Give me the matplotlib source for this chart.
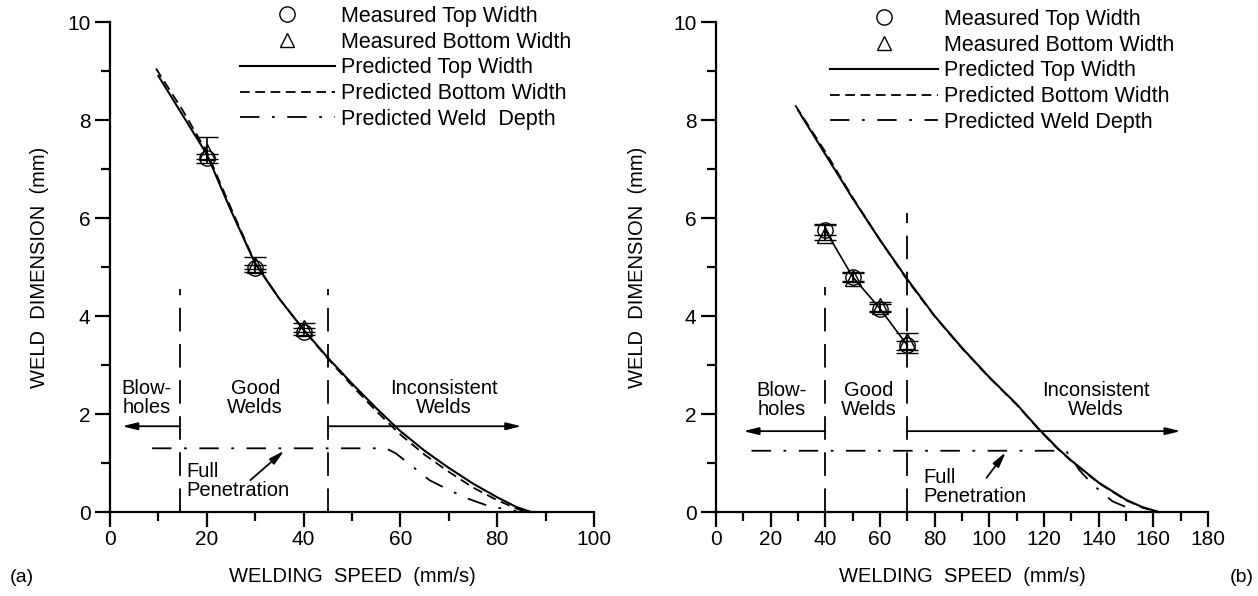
import matplotlib.pyplot as plt
from matplotlib.lines import Line2D
from matplotlib.legend_handler import HandlerLine2D

plt.rcParams['font.family'] = ['Liberation Sans', 'DejaVu Sans']
plt.rcParams['lines.scale_dashes'] = False

# --- data: panel (a) ---
a_speed_meas = [20, 30, 40]
a_top_meas = [7.22, 4.97, 3.68]
a_top_err_lo = [0.10, 0.07, 0.06]
a_top_err_hi = [0.08, 0.08, 0.07]
a_bot_meas = [7.35, 5.05, 3.75]
a_bot_err_lo = [0.15, 0.10, 0.07]
a_bot_err_hi = [0.30, 0.15, 0.10]

a_top_x = [10, 15, 20, 25, 30, 35, 40, 45, 50, 55, 60, 65, 70, 75, 80, 84, 87]
a_top_y = [8.9, 8.1, 7.3, 6.15, 5.07, 4.35, 3.72, 3.15, 2.62, 2.12, 1.65, 1.25, 0.9, 0.58, 0.3, 0.1, 0.0]
a_bot_x = [9.5, 15, 20, 25, 30, 35, 40, 45, 50, 55, 60, 65, 70, 75, 80, 84, 86]
a_bot_y = [9.05, 8.2, 7.35, 6.2, 5.08, 4.35, 3.72, 3.13, 2.58, 2.06, 1.58, 1.17, 0.82, 0.5, 0.24, 0.07, 0.0]
a_dep_x = [8.7, 57, 59, 62, 66, 70, 74, 78, 82, 84]
a_dep_y = [1.3, 1.3, 1.2, 0.97, 0.65, 0.45, 0.27, 0.13, 0.05, 0.02]

# --- data: panel (b) ---
b_speed_meas = [40, 50, 60, 70]
b_top_meas = [5.75, 4.8, 4.15, 3.4]
b_top_err_lo = [0.10, 0.08, 0.07, 0.10]
b_top_err_hi = [0.12, 0.10, 0.10, 0.10]
b_bot_meas = [5.65, 4.78, 4.2, 3.5]
b_bot_err_lo = [0.10, 0.08, 0.10, 0.25]
b_bot_err_hi = [0.20, 0.10, 0.08, 0.15]

b_top_x = [30, 40, 50, 60, 70, 80, 90, 100, 110, 118, 125, 130, 140, 150, 156, 162]
b_top_y = [8.2, 7.3, 6.4, 5.55, 4.75, 4.0, 3.35, 2.75, 2.2, 1.7, 1.3, 1.05, 0.6, 0.25, 0.1, 0.0]
b_bot_x = [29, 40, 50, 60, 70, 80, 90, 100, 110, 118, 125, 130, 140, 150, 156, 161.5]
b_bot_y = [8.3, 7.35, 6.42, 5.55, 4.73, 3.99, 3.34, 2.74, 2.19, 1.69, 1.29, 1.04, 0.59, 0.24, 0.09, 0.0]
b_dep_x = [13, 128, 130, 133, 138, 145, 150, 152]
b_dep_y = [1.25, 1.25, 1.1, 0.85, 0.55, 0.22, 0.1, 0.05]

DASH = (0, (7, 4))
DASHDOT = (0, (14, 9, 2, 9))
VLINE = (0, (17, 9))
FS_TICK = 15
FS_NOTE = 14.5
FS_LEG = 15.5
FS_LAB = 14.5


class ShiftedMarker(HandlerLine2D):
    # legend marker sits a bit right of the handle centre, as in the original
    def __init__(self, frac, **kw):
        super().__init__(**kw)
        self.frac = frac

    def get_xdata(self, legend, xdescent, ydescent, width, height, fontsize):
        xdata, _ = super().get_xdata(legend, xdescent, ydescent, width, height, fontsize)
        return xdata, [-xdescent + self.frac * width]


fig = plt.figure(figsize=(12.58, 5.96), dpi=100)
ax1 = fig.add_axes([110 / 1258, 84 / 596, 484 / 1258, 490 / 596])
ax2 = fig.add_axes([716 / 1258, 84 / 596, 492 / 1258, 490 / 596])


def style_axes(ax, xmax, xmajor, xminor):
    ax.set_xlim(0, xmax)
    ax.set_ylim(0, 10)
    ax.spines['top'].set_visible(False)
    ax.spines['right'].set_visible(False)
    ax.spines['left'].set_linewidth(1.6)
    ax.spines['bottom'].set_linewidth(1.6)
    ax.set_xticks(range(0, xmax + 1, xmajor))
    ax.set_xticks(range(0, xmax + 1, xminor), minor=True)
    ax.set_yticks(range(0, 11, 2))
    ax.set_yticks(range(0, 11, 1), minor=True)
    ax.tick_params(axis='x', which='major', length=11, width=1.6, labelsize=FS_TICK, pad=2)
    ax.tick_params(axis='x', which='minor', length=6.5, width=1.6)
    ax.tick_params(axis='y', which='major', length=11, width=1.6, labelsize=FS_TICK, pad=3)
    ax.tick_params(axis='y', which='minor', length=6.5, width=1.6)
    ax.set_xlabel('WELDING  SPEED  (mm/s)', fontsize=FS_LAB)
    ax.set_ylabel('WELD  DIMENSION  (mm)', fontsize=FS_LAB)


def draw_measured(ax, xs, top, tlo, thi, bot, blo, bhi):
    ax.errorbar(xs, top, yerr=[tlo, thi], fmt='o', ms=11, mfc='none', mec='k',
                mew=1.0, ecolor='k', elinewidth=1.2, capsize=8, capthick=1.2, zorder=4)
    ax.errorbar(xs, bot, yerr=[blo, bhi], fmt='^', ms=11, mfc='none', mec='k',
                mew=1.0, ecolor='k', elinewidth=1.2, capsize=8, capthick=1.2, zorder=4)


arrow = dict(arrowstyle='-|>,head_length=0.9,head_width=0.22', color='k', lw=1.3,
             shrinkA=0, shrinkB=0)

# panel (a)
style_axes(ax1, 100, 20, 10)
draw_measured(ax1, a_speed_meas, a_top_meas, a_top_err_lo, a_top_err_hi,
              a_bot_meas, a_bot_err_lo, a_bot_err_hi)
ax1.plot(a_top_x, a_top_y, color='k', lw=1.5, clip_on=False)
ax1.plot(a_bot_x, a_bot_y, color='k', lw=1.3, ls=DASH, clip_on=False)
ax1.plot(a_dep_x, a_dep_y, color='k', lw=1.3, ls=DASHDOT, clip_on=False)
ax1.plot([14.5, 14.5], [0, 4.55], color='k', lw=1.3, ls=VLINE)
ax1.plot([45, 45], [0, 4.55], color='k', lw=1.3, ls=VLINE)
ax1.annotate('', xy=(2.5, 1.75), xytext=(14.5, 1.75), arrowprops=arrow)
ax1.annotate('', xy=(85, 1.75), xytext=(45, 1.75), arrowprops=arrow)
ax1.annotate('', xy=(36, 1.25), xytext=(29, 0.65), arrowprops=arrow)
ax1.text(7.5, 2.33, 'Blow-\nholes', ha='center', va='center', fontsize=FS_NOTE, linespacing=1.0)
ax1.text(30, 2.33, 'Good\nWelds', ha='center', va='center', fontsize=FS_NOTE, linespacing=1.0)
ax1.text(69, 2.33, 'Inconsistent\nWelds', ha='center', va='center', fontsize=FS_NOTE, linespacing=1.0)
ax1.text(15.8, 0.64, 'Full\nPenetration', ha='left', va='center', fontsize=FS_NOTE, linespacing=1.0)
ax1.yaxis.set_label_coords(-0.125, 0.5)
ax1.xaxis.set_label_coords(0.5, -0.112)

# panel (b)
style_axes(ax2, 180, 20, 10)
draw_measured(ax2, b_speed_meas, b_top_meas, b_top_err_lo, b_top_err_hi,
              b_bot_meas, b_bot_err_lo, b_bot_err_hi)
ax2.plot(b_speed_meas, b_top_meas, color='k', lw=1.2)
ax2.plot(b_top_x, b_top_y, color='k', lw=1.5, clip_on=False)
ax2.plot(b_bot_x, b_bot_y, color='k', lw=1.3, ls=DASH, clip_on=False)
ax2.plot(b_dep_x, b_dep_y, color='k', lw=1.3, ls=DASHDOT, clip_on=False)
ax2.plot([40, 40], [0, 4.6], color='k', lw=1.3, ls=VLINE)
ax2.plot([70, 70], [0, 6.1], color='k', lw=1.3, ls=VLINE)
ax2.annotate('', xy=(10, 1.65), xytext=(40, 1.65), arrowprops=arrow)
ax2.annotate('', xy=(170, 1.65), xytext=(70, 1.65), arrowprops=arrow)
ax2.annotate('', xy=(106, 1.22), xytext=(99, 0.7), arrowprops=arrow)
ax2.text(24, 2.28, 'Blow-\nholes', ha='center', va='center', fontsize=FS_NOTE, linespacing=1.0)
ax2.text(56, 2.28, 'Good\nWelds', ha='center', va='center', fontsize=FS_NOTE, linespacing=1.0)
ax2.text(139, 2.28, 'Inconsistent\nWelds', ha='center', va='center', fontsize=FS_NOTE, linespacing=1.0)
ax2.text(76, 0.52, 'Full\nPenetration', ha='left', va='center', fontsize=FS_NOTE, linespacing=1.0)
ax2.yaxis.set_label_coords(-0.14, 0.5)
ax2.xaxis.set_label_coords(0.5, -0.112)


def add_legend(ax, x_px, y_px, hlen, mfrac, depth_label):
    circ = Line2D([], [], ls='none', marker='o', ms=11, mfc='none', mec='k', mew=1.0)
    tri = Line2D([], [], ls='none', marker='^', ms=10, mfc='none', mec='k', mew=1.0)
    handles = [
        circ, tri,
        Line2D([], [], color='k', lw=1.5),
        Line2D([], [], color='k', lw=1.3, ls=DASH),
        Line2D([], [], color='k', lw=1.3, ls=DASHDOT),
    ]
    labels = ['Measured Top Width', 'Measured Bottom Width', 'Predicted Top Width',
              'Predicted Bottom Width', depth_label]
    ax.legend(handles, labels, loc='upper left', frameon=False, fontsize=FS_LEG,
              bbox_to_anchor=(x_px / 1258, 1 - y_px / 596), bbox_transform=fig.transFigure,
              borderpad=0, borderaxespad=0, handlelength=hlen, handletextpad=0.3,
              labelspacing=0.22, numpoints=1,
              handler_map={circ: ShiftedMarker(mfrac), tri: ShiftedMarker(mfrac)})


add_legend(ax1, 240, 6, 4.4, 0.6, 'Predicted Weld  Depth')
add_legend(ax2, 830, 9, 5.0, 0.64, 'Predicted Weld Depth')

fig.text(10 / 1258, 1 - 578 / 596, '(a)', fontsize=14, ha='left', va='center')
fig.text(1254 / 1258, 1 - 578 / 596, '(b)', fontsize=14, ha='right', va='center')

fig.savefig('out.png', dpi=100)
